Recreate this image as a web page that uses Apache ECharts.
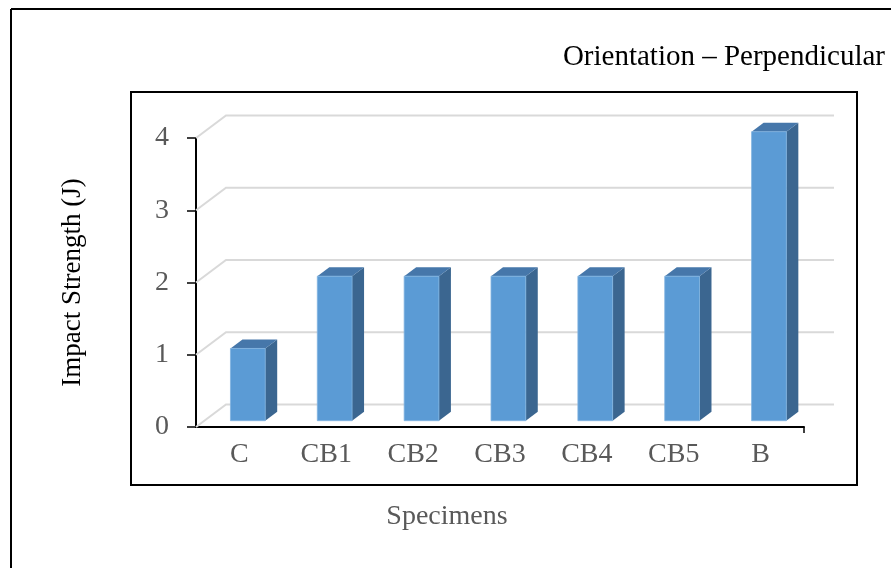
<!DOCTYPE html>
<html>
<head>
<meta charset="utf-8">
<script src="https://cdn.jsdelivr.net/npm/echarts@6/dist/echarts.min.js"></script>
<style>
  html, body { margin: 0; padding: 0; background: #fff; }
  #chart { width: 891px; height: 568px; }
</style>
</head>
<body>
<div id="chart"></div>
<script>
// Impact strength per specimen (J)
const categories = ['C', 'CB1', 'CB2', 'CB3', 'CB4', 'CB5', 'B'];
const impactStrength = [1, 2, 2, 2, 2, 2, 4];
const yTicks = [0, 1, 2, 3, 4];

const SERIF = "'Liberation Serif', 'Times New Roman', serif";
// Oblique depth of the pseudo-3D floor/back wall
const DEPTH = [30, -22.5];
const BAR_FRONT = 0.28;   // fraction of depth where bar front face sits
const BAR_BACK = 0.68;    // fraction of depth where bar back face sits
const BAR_RATIO = 0.4;    // bar width relative to category band

const chart = echarts.init(document.getElementById('chart'), null, { renderer: 'canvas' });

function renderWall(params, api) {
  const cs = params.coordSys;
  const v = api.value(0);
  const p = api.coord([0, v]);
  const x0 = cs.x, x1 = cs.x + cs.width, y = p[1];
  const children = [{
    type: 'polyline',
    shape: { points: [[x0, y], [x0 + DEPTH[0], y + DEPTH[1]], [x1 + DEPTH[0], y + DEPTH[1]]] },
    style: { stroke: '#d9d9d9', lineWidth: 2, fill: null }
  }];
  if (v === 0) {
    // closing tick at the end of the category axis
    children.push({
      type: 'line',
      shape: { x1: x1, y1: y, x2: x1, y2: y + 6 },
      style: { stroke: '#000', lineWidth: 1.5 }
    });
  }
  return { type: 'group', children: children };
}

function renderBar(params, api) {
  const idx = api.value(0);
  const top = api.coord([idx, api.value(1)]);
  const base = api.coord([idx, 0]);
  const band = api.size([1, 0])[0];
  const w = band * BAR_RATIO;
  const fx = DEPTH[0] * BAR_FRONT, fy = DEPTH[1] * BAR_FRONT;
  const dx = DEPTH[0] * (BAR_BACK - BAR_FRONT), dy = DEPTH[1] * (BAR_BACK - BAR_FRONT);
  const xl = top[0] - w / 2 + fx, xr = top[0] + w / 2 + fx;
  const yt = top[1] + fy, yb = base[1] + fy;
  return {
    type: 'group',
    children: [
      { type: 'polygon', shape: { points: [[xr, yt], [xr + dx, yt + dy], [xr + dx, yb + dy], [xr, yb]] },
        style: { fill: '#3b6690' } },
      { type: 'polygon', shape: { points: [[xl, yt], [xr, yt], [xr + dx, yt + dy], [xl + dx, yt + dy]] },
        style: { fill: '#4677aa' } },
      { type: 'rect', shape: { x: xl, y: yt, width: xr - xl, height: yb - yt },
        style: { fill: '#5b9bd5', stroke: '#7fb2e0', lineWidth: 0.8 } }
    ]
  };
}

chart.setOption({
  backgroundColor: '#fff',
  animation: false,
  grid: { left: 196, right: 87, top: 138, bottom: 141, containLabel: false },
  xAxis: {
    type: 'category',
    data: categories,
    axisLine: { lineStyle: { color: '#000', width: 2 } },
    axisTick: { alignWithLabel: true, length: 6, lineStyle: { color: '#000', width: 1.5 } },
    axisLabel: { color: '#595959', fontFamily: SERIF, fontSize: 28, margin: 14 },
    splitLine: { show: false }
  },
  yAxis: {
    type: 'value',
    min: 0, max: 4, interval: 1,
    name: 'Impact Strength (J)',
    nameLocation: 'middle',
    nameGap: 110,
    nameTextStyle: { color: '#000', fontFamily: SERIF, fontSize: 27 },
    axisLine: { show: true, lineStyle: { color: '#000', width: 2 } },
    axisTick: { show: true, length: 9, lineStyle: { color: '#000', width: 1.5 } },
    axisLabel: {
      color: '#595959', fontFamily: SERIF, fontSize: 28, margin: 27,
      formatter: v => (yTicks.indexOf(v) >= 0 ? String(v) : '')
    },
    splitLine: { show: false }
  },
  graphic: [
    { type: 'line', silent: true, shape: { x1: 11, y1: 9, x2: 900, y2: 9 }, style: { stroke: '#000', lineWidth: 2 } },
    { type: 'line', silent: true, shape: { x1: 11, y1: 9, x2: 11, y2: 580 }, style: { stroke: '#000', lineWidth: 2 } },
    { type: 'rect', silent: true, z: -1, shape: { x: 131, y: 92, width: 726, height: 393 },
      style: { fill: null, stroke: '#000', lineWidth: 2 } },
    { type: 'text', silent: true, x: 885, y: 57,
      style: { text: 'Orientation \u2013 Perpendicular', fill: '#000', font: "29px " + SERIF,
               textAlign: 'right', textVerticalAlign: 'middle' } },
    { type: 'text', silent: true, x: 447, y: 517,
      style: { text: 'Specimens', fill: '#595959', font: "28px " + SERIF,
               textAlign: 'center', textVerticalAlign: 'middle' } }
  ],
  series: [
    {
      type: 'custom',
      renderItem: renderWall,
      data: yTicks.map(v => [v]),
      encode: { y: 0 },
      z: 1,
      silent: true
    },
    {
      type: 'custom',
      renderItem: renderBar,
      data: impactStrength.map((v, i) => [i, v]),
      encode: { x: 0, y: 1 },
      z: 3
    }
  ]
});
</script>
</body>
</html>
